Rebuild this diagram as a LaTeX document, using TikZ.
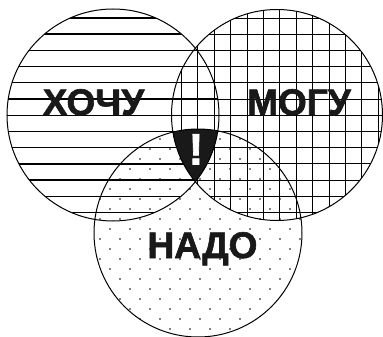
\documentclass[tikz,border=0pt]{standalone}
\usepackage{fontspec}
\setmainfont{Liberation Sans}
\newfontfamily\heavyfont[FakeBold=1.6]{Liberation Sans Bold}
\begin{document}
\begin{tikzpicture}[x=1pt,y=-1pt,
  ring/.style={draw=black,line width=1pt},
  hatch/.style={draw=black,line width=1.4pt},
  gridline/.style={draw=black,line width=0.9pt},
  dotmark/.style={fill=black},
  biglabel/.style={font=\heavyfont\fontsize{37}{40}\selectfont,anchor=base,inner sep=0pt,text=black!90}]
\useasboundingbox (0,0) rectangle (383,337);
\fill[white] (0,0) rectangle (383,337);
\coordinate (c1) at (113,115);
\coordinate (c2) at (277,115);
\coordinate (c3) at (198,233);
% horizontal hatch in circle 1
\begin{scope}
  \clip (c1) circle [radius=106pt];
  \foreach \k in {0,...,12} \draw[hatch] (0,{18+16.2*\k}) -- (230,{18+16.2*\k});
\end{scope}
% grid in circle 2
\begin{scope}
  \clip (c2) circle [radius=105.5pt];
  \foreach \k in {0,...,12} \draw[gridline] (160,{18+16.2*\k}) -- (390,{18+16.2*\k});
  \foreach \m in {-3,...,10} \draw[gridline] ({214.3+16.4*\m},0) -- ({214.3+16.4*\m},230);
\end{scope}
% dots in circle 3
\begin{scope}
  \clip (c3) circle [radius=104pt];
  \foreach \j in {0,...,21} {
    \pgfmathsetmacro{\off}{10*mod(\j+1,2)}
    \foreach \i in {4,...,16}
      \fill[dotmark] ({20*\i+\off},{129+10*\j}) circle [radius=0.9pt];
  }
\end{scope}
% black triple intersection
\begin{scope}
  \clip (c1) circle [radius=106pt];
  \clip (c2) circle [radius=105.5pt];
  \fill[black!90] (c3) circle [radius=104pt];
\end{scope}
% outlines
\draw[ring] (c1) circle [radius=106pt];
\draw[ring] (c2) circle [radius=105.5pt];
\draw[ring] (c3) circle [radius=104pt];
% labels
\node[biglabel] (xochu) at (93.5,115) {ХОЧУ};
\node[biglabel] (mogu) at (299,115) {МОГУ};
\node[biglabel] (nado) at (202.5,258) {НАДО};
\node[font=\heavyfont\fontsize{44}{48}\selectfont,anchor=base,inner sep=0pt,text=white] (excl) at (196,164.5) {!};
\end{tikzpicture}
\end{document}
